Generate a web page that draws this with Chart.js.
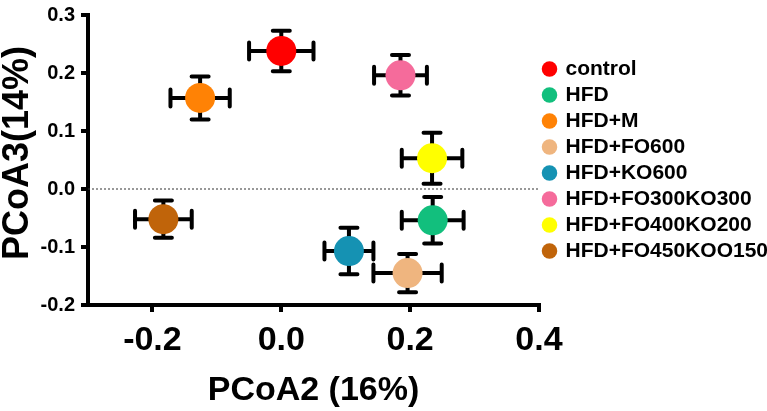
<!DOCTYPE html>
<html>
<head>
<meta charset="utf-8">
<script src="https://cdn.jsdelivr.net/npm/chart.js@4/dist/chart.umd.min.js"></script>
<style>
  html, body { margin: 0; padding: 0; background: #fff; overflow: hidden; }
  #wrap { width: 767px; height: 411px; overflow: hidden; }
</style>
</head>
<body>
<div id="wrap"><canvas id="myChart" width="778" height="411"></canvas></div>
<script>
const groups = [
    'control',
    'HFD',
    'HFD+M',
    'HFD+FO600',
    'HFD+KO600',
    'HFD+FO300KO300',
    'HFD+FO400KO200',
    'HFD+FO450KOO150',
];

// PCoA2 / PCoA3 means and their error bars
const pcoa2 = [0.000, 0.235, -0.126, 0.196, 0.105, 0.185, 0.234, -0.183];
const pcoa3 = [0.238, -0.054, 0.157, -0.145, -0.107, 0.196, 0.053, -0.052];
const pcoa2Err = [0.050, 0.048, 0.046, 0.053, 0.038, 0.041, 0.047, 0.044];
const pcoa3Err = [0.035, 0.040, 0.037, 0.033, 0.040, 0.035, 0.044, 0.032];

const xTicks = [-0.2, 0.0, 0.2, 0.4];
const yTicks = [-0.2, -0.1, 0.0, 0.1, 0.2, 0.3];

const colors = ['#FF0000', '#12BF7D', '#FF8205', '#EFB57F', '#1592B3', '#F56B9B', '#FFFF00', '#C0640A'];

const font = 'Liberation Sans, Arial, sans-serif';

const datasets = groups.map((g, i) => ({
    label: g,
    data: [{ x: pcoa2[i], y: pcoa3[i] }],
    backgroundColor: colors[i],
    borderColor: colors[i],
    borderWidth: 0,
    pointRadius: 15,
    pointHoverRadius: 15,
    pointStyle: 'circle',
}));

// error bars + dotted zero line, drawn under the markers
const errorBars = {
    id: 'errorBars',
    beforeDatasetsDraw(chart) {
        const { ctx, chartArea, scales: { x, y } } = chart;
        ctx.save();
        ctx.strokeStyle = '#333';
        ctx.lineWidth = 1;
        ctx.setLineDash([2, 2]);
        ctx.beginPath();
        ctx.moveTo(chartArea.left, y.getPixelForValue(0));
        ctx.lineTo(chartArea.right, y.getPixelForValue(0));
        ctx.stroke();
        ctx.setLineDash([]);

        ctx.strokeStyle = '#000';
        ctx.lineWidth = 4;
        ctx.lineCap = 'round';
        const cap = 8.5;
        groups.forEach((g, i) => {
            const cx = x.getPixelForValue(pcoa2[i]);
            const cy = y.getPixelForValue(pcoa3[i]);
            const x0 = x.getPixelForValue(pcoa2[i] - pcoa2Err[i]);
            const x1 = x.getPixelForValue(pcoa2[i] + pcoa2Err[i]);
            const y0 = y.getPixelForValue(pcoa3[i] - pcoa3Err[i]);
            const y1 = y.getPixelForValue(pcoa3[i] + pcoa3Err[i]);
            ctx.beginPath();
            ctx.moveTo(x0, cy); ctx.lineTo(x1, cy);
            ctx.moveTo(cx, y0); ctx.lineTo(cx, y1);
            ctx.moveTo(x0, cy - cap); ctx.lineTo(x0, cy + cap);
            ctx.moveTo(x1, cy - cap); ctx.lineTo(x1, cy + cap);
            ctx.moveTo(cx - cap, y0); ctx.lineTo(cx + cap, y0);
            ctx.moveTo(cx - cap, y1); ctx.lineTo(cx + cap, y1);
            ctx.stroke();
        });
        ctx.restore();
    }
};

const yTitle = {
    id: 'yTitle',
    afterDraw(chart) {
        const ctx = chart.ctx;
        ctx.save();
        ctx.translate(18, 153);
        ctx.rotate(-Math.PI / 2);
        ctx.font = 'bold 36px ' + font;
        ctx.fillStyle = '#000';
        ctx.textAlign = 'center';
        ctx.textBaseline = 'middle';
        ctx.fillText('PCoA3(14%)', 0, 0);
        ctx.restore();
    }
};

const config = {
    type: 'scatter',
    data: { datasets: datasets },
    options: {
        responsive: false,
        animation: false,
        layout: { padding: { top: 8, left: 0, right: 0, bottom: 0 } },
        plugins: {
            tooltip: { enabled: false },
            legend: {
                position: 'right',
                fullSize: false,
                maxWidth: 400,
                labels: {
                    usePointStyle: true,
                    pointStyle: 'circle',
                    boxWidth: 11,
                    boxHeight: 11,
                    padding: 5,
                    color: '#000',
                    font: { family: font, size: 21, weight: 'bold' },
                },
            },
        },
        scales: {
            x: {
                type: 'linear',
                min: -0.3,
                max: 0.4,
                afterBuildTicks: (s) => { s.ticks = xTicks.map(v => ({ value: v })); },
                afterFit: (s) => { s.height = 106; },
                grid: { drawOnChartArea: false, drawTicks: true, tickLength: 7, lineWidth: 4, color: '#000' },
                border: { display: true, color: '#000', width: 4 },
                ticks: {
                    color: '#000',
                    padding: 8,
                    maxRotation: 0,
                    font: { family: font, size: 34, weight: 'bold' },
                    callback: (v) => v.toFixed(1),
                },
                title: {
                    display: true,
                    text: 'PCoA2 (16%)',
                    color: '#000',
                    padding: { top: 0, bottom: 0 },
                    font: { family: font, size: 34, weight: 'bold' },
                },
            },
            y: {
                type: 'linear',
                min: -0.2,
                max: 0.3,
                afterBuildTicks: (s) => { s.ticks = yTicks.map(v => ({ value: v })); },
                afterFit: (s) => { s.width = 88; },
                grid: { drawOnChartArea: false, drawTicks: true, tickLength: 7, lineWidth: 4, color: '#000' },
                border: { display: true, color: '#000', width: 4 },
                ticks: {
                    color: '#000',
                    padding: 6,
                    font: { family: font, size: 20, weight: 'bold', lineHeight: 0.8 },
                    callback: (v) => v.toFixed(1),
                },
            },
        },
    },
    plugins: [errorBars, yTitle],
};

const myChart = new Chart(document.getElementById('myChart'), config);
</script>
</body>
</html>
